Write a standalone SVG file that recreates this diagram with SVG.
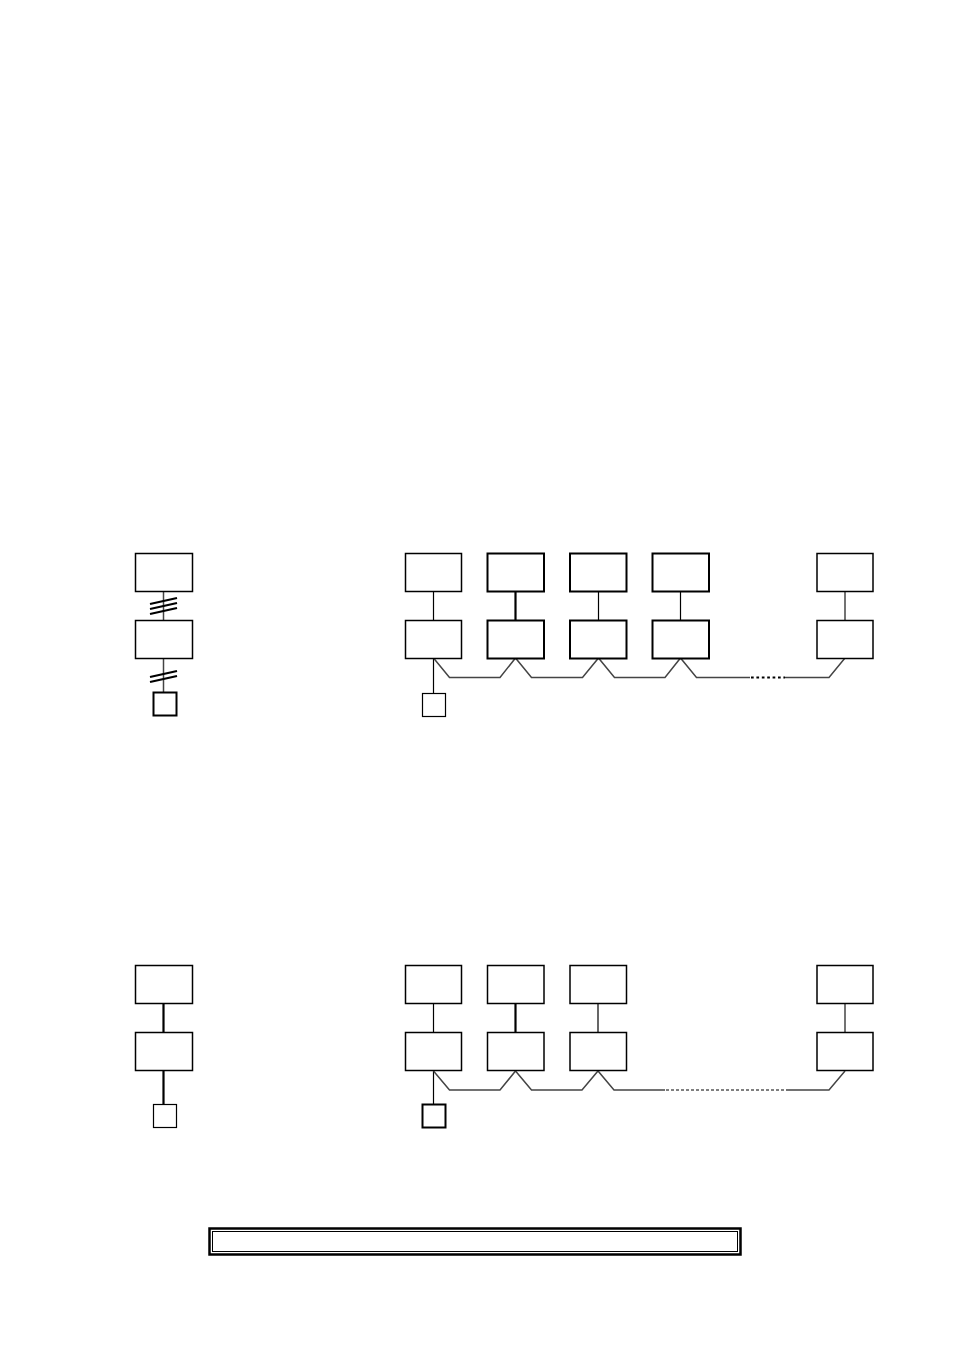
<svg xmlns="http://www.w3.org/2000/svg" width="954" height="1348" viewBox="0 0 954 1348">
<style>
.bx{fill:#fff;stroke:#000;stroke-width:1.5}
.bb{fill:#fff;stroke:#000;stroke-width:2}
.ln{fill:none;stroke:#000;stroke-width:1.2}
.lg{fill:none;stroke:#444;stroke-width:1.5}
.lt{fill:none;stroke:#000;stroke-width:2.2}
.dot{fill:none;stroke:#000;stroke-width:2;stroke-dasharray:2.7 2.7}
.dash{fill:none;stroke:#000;stroke-width:1;stroke-dasharray:3 2}
</style>
<rect width="954" height="1348" fill="#fff"/>
<g id="connectors">
  <!-- top left -->
  <line class="lg" x1="163.5" y1="591" x2="163.5" y2="620"/>
  <line class="lt" x1="150" y1="604" x2="177" y2="598"/>
  <line class="lt" x1="150" y1="609" x2="177" y2="603"/>
  <line class="lt" x1="150" y1="614" x2="177" y2="608"/>
  <line class="lg" x1="163.5" y1="658" x2="163.5" y2="692"/>
  <line class="lt" x1="150" y1="677" x2="177" y2="671"/>
  <line class="lt" x1="150" y1="682" x2="177" y2="676"/>
  <!-- top right verticals -->
  <line class="ln" x1="433.5" y1="591" x2="433.5" y2="620"/>
  <line class="lt" x1="515.5" y1="591" x2="515.5" y2="620"/>
  <line class="ln" x1="598.5" y1="591" x2="598.5" y2="620"/>
  <line class="ln" x1="680.5" y1="591" x2="680.5" y2="620"/>
  <line class="lg" x1="845" y1="591" x2="845" y2="620"/>
  <line class="ln" x1="433.5" y1="658" x2="433.5" y2="693"/>
  <polyline class="lg" points="433.5,658 449.5,677.5 500,677.5 515.5,658 531.5,677.5 582.5,677.5 598.5,658 614.5,677.5 665,677.5 680.5,658 696.5,677.5 750,677.5"/>
  <line class="dot" x1="751" y1="677.5" x2="785" y2="677.5"/>
  <polyline class="lg" points="785,677.5 829,677.5 845,658"/>
  <!-- bottom left -->
  <line class="lt" x1="163.5" y1="1003" x2="163.5" y2="1032"/>
  <line class="lt" x1="163.5" y1="1071" x2="163.5" y2="1104"/>
  <!-- bottom right verticals -->
  <line class="ln" x1="433.5" y1="1003" x2="433.5" y2="1032"/>
  <line class="lt" x1="515.5" y1="1003" x2="515.5" y2="1032"/>
  <line class="ln" x1="598" y1="1003" x2="598" y2="1032"/>
  <line class="lg" x1="845" y1="1003" x2="845" y2="1032"/>
  <line class="ln" x1="433.5" y1="1071" x2="433.5" y2="1104"/>
  <polyline class="lg" points="433.5,1071 449.5,1090 500,1090 515.5,1071 531.5,1090 582,1090 598,1071 614,1090 665,1090"/>
  <line class="dash" x1="666" y1="1090" x2="785" y2="1090"/>
  <polyline class="lg" points="786,1090 829,1090 845,1071"/>
</g>
<g id="n-top-left-1"><rect class="bx" x="135.5" y="553.5" width="57" height="38"/></g>
<g id="n-top-left-2"><rect class="bx" x="135.5" y="620.5" width="57" height="38"/></g>
<g id="n-top-left-3"><rect class="bb" x="153.5" y="692.5" width="23" height="23"/></g>
<g id="n-top-a1"><rect class="bx" x="405.5" y="553.5" width="56" height="38"/></g>
<g id="n-top-a2"><rect class="bx" x="405.5" y="620.5" width="56" height="38"/></g>
<g id="n-top-a3"><rect class="ln" fill="#fff" x="422.5" y="693.5" width="23" height="23"/></g>
<g id="n-top-b1"><rect class="bb" x="487.5" y="553.5" width="56.5" height="38"/></g>
<g id="n-top-b2"><rect class="bb" x="487.5" y="620.5" width="56.5" height="38"/></g>
<g id="n-top-c1"><rect class="bb" x="570" y="553.5" width="56.5" height="38"/></g>
<g id="n-top-c2"><rect class="bb" x="570" y="620.5" width="56.5" height="38"/></g>
<g id="n-top-d1"><rect class="bb" x="652.5" y="553.5" width="56.5" height="38"/></g>
<g id="n-top-d2"><rect class="bb" x="652.5" y="620.5" width="56.5" height="38"/></g>
<g id="n-top-e1"><rect class="bx" x="817" y="553.5" width="56" height="38"/></g>
<g id="n-top-e2"><rect class="bx" x="817" y="620.5" width="56" height="38"/></g>
<g id="n-bot-left-1"><rect class="bx" x="135.5" y="965.5" width="57" height="38"/></g>
<g id="n-bot-left-2"><rect class="bx" x="135.5" y="1032.5" width="57" height="38"/></g>
<g id="n-bot-left-3"><rect class="ln" fill="#fff" x="153.5" y="1104.5" width="23" height="23"/></g>
<g id="n-bot-a1"><rect class="bx" x="405.5" y="965.5" width="56" height="38"/></g>
<g id="n-bot-a2"><rect class="bx" x="405.5" y="1032.5" width="56" height="38"/></g>
<g id="n-bot-a3"><rect class="bb" x="422.5" y="1104.5" width="23" height="23"/></g>
<g id="n-bot-b1"><rect class="bx" x="487.5" y="965.5" width="56.5" height="38"/></g>
<g id="n-bot-b2"><rect class="bx" x="487.5" y="1032.5" width="56.5" height="38"/></g>
<g id="n-bot-c1"><rect class="bx" x="570" y="965.5" width="56.5" height="38"/></g>
<g id="n-bot-c2"><rect class="bx" x="570" y="1032.5" width="56.5" height="38"/></g>
<g id="n-bot-e1"><rect class="bx" x="817" y="965.5" width="56" height="38"/></g>
<g id="n-bot-e2"><rect class="bx" x="817" y="1032.5" width="56" height="38"/></g>
<g id="caption-box">
  <rect x="209.5" y="1228.5" width="531" height="26" fill="#fff" stroke="#000" stroke-width="2.5"/>
  <rect x="212.5" y="1231.5" width="525" height="20" fill="none" stroke="#000" stroke-width="1"/>
</g>
</svg>
